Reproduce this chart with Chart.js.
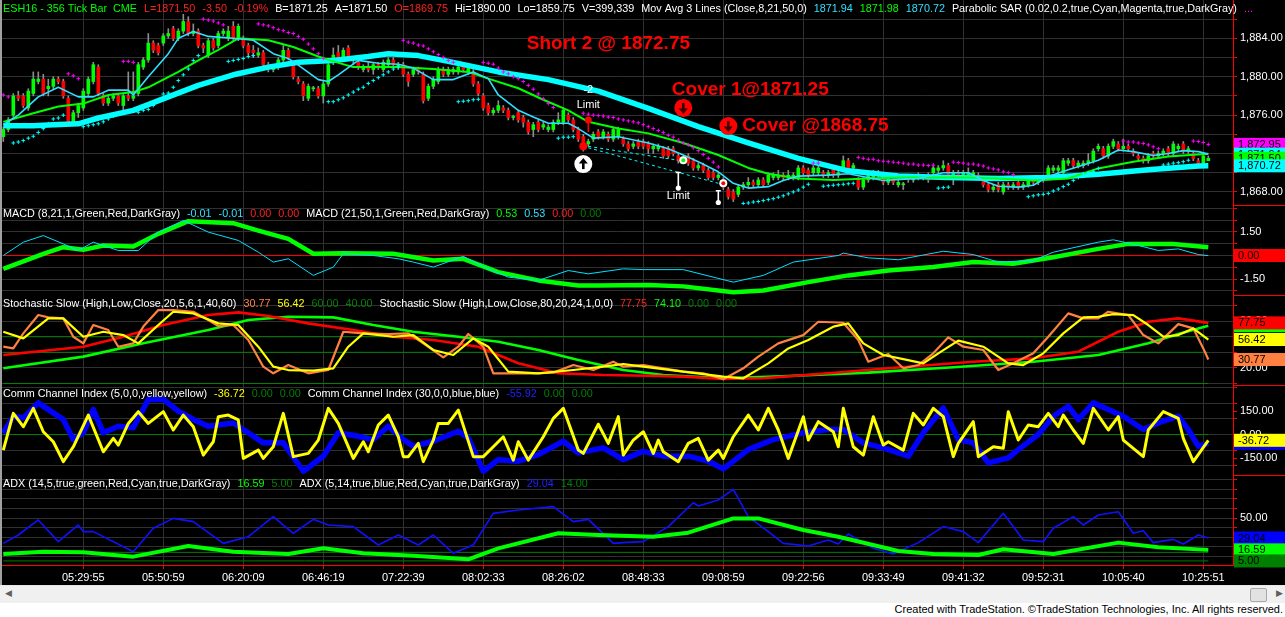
<!DOCTYPE html>
<html>
<head>
<meta charset="utf-8">
<script src="https://cdn.jsdelivr.net/npm/chart.js@4.4.1/dist/chart.umd.min.js"></script>
<style>
html,body{margin:0;padding:0;background:#fff;overflow:hidden;width:1285px;height:617px}
#wrap{position:absolute;left:0;top:0;width:1283px;height:585px;border-left:2px solid #a0a0a0;background:#000}
#sb{position:absolute;left:0;top:585px;width:1285px;height:17px;background:#f0f0f0;border-top:1px solid #e6e6e6}
#la{position:absolute;left:5px;top:2px;font:9px "Liberation Sans",Arial,sans-serif;color:#606060}
#thumb{position:absolute;left:1250px;top:2px;width:15px;height:12px;background:#e2e2e2;border:1px solid #a8a8a8;border-radius:2px}
#ra{position:absolute;left:1276px;top:2px;font:9px "Liberation Sans",Arial,sans-serif;color:#606060}
#foot{position:absolute;right:2px;top:603px;font:11px "Liberation Sans",Arial,sans-serif;color:#000;white-space:nowrap}
</style>
</head>
<body>
<div id="wrap"><canvas id="c" width="1283" height="585"></canvas></div>
<div id="sb"><span id="la">&#9664;</span><div id="thumb"></div><span id="ra">&#9654;</span></div>
<div id="foot">Created with TradeStation. &copy;TradeStation Technologies, Inc. All rights reserved.</div>
<script>
// time axis labels, one every 16 bars
let timeBars = [16, 32, 48, 64, 80, 96, 112, 128, 144, 160, 176, 192, 208, 224, 240]
let timeLabels = ['05:29:55', '05:50:59', '06:20:09', '06:46:19', '07:22:39', '08:02:33', '08:26:02', '08:48:33',
  '09:08:59', '09:22:56', '09:33:49', '09:41:32', '09:52:31', '10:05:40', '10:25:51']

// 356 tick bars
let opens = [
  1873.75,1874.5,1876.0,1878.0,1878.0,1876.75,1878.25,1879.5,1879.75,1878.75,
  1879.0,1879.75,1879.5,1877.75,1875.25,1876.25,1876.75,1878.25,1879.5,1881.0,
  1878.0,1877.25,1877.75,1878.0,1877.0,1878.0,1877.75,1878.25,1881.0,1881.75,
  1883.5,1883.25,1883.5,1884.25,1885.0,1884.0,1884.75,1885.75,1884.5,1884.75,
  1883.25,1882.25,1883.75,1883.25,1884.5,1884.0,1885.25,1884.0,1884.0,1883.25,
  1882.75,1882.25,1882.5,1881.25,1880.75,1881.0,1881.75,1882.75,1881.25,1879.75,
  1879.25,1877.75,1878.75,1878.75,1878.0,1879.25,1881.5,1882.5,1882.0,1883.0,
  1881.75,1881.5,1880.75,1881.0,1880.75,1881.25,1880.75,1881.25,1881.75,1881.0,
  1881.25,1880.25,1880.25,1880.75,1880.25,1877.75,1879.0,1879.5,1880.75,1880.25,
  1880.5,1880.5,1881.0,1880.5,1880.5,1879.25,1878.0,1877.0,1876.25,1876.5,
  1876.75,1876.5,1875.75,1876.25,1875.75,1875.25,1874.5,1875.25,1874.75,1874.5,
  1874.5,1875.25,1875.25,1876.0,1875.5,1874.5,1873.75,1873.0,1873.5,1874.25,
  1873.75,1874.0,1873.5,1873.75,1873.5,1873.0,1872.75,1873.25,1873.25,1873.0,
  1872.5,1872.5,1872.5,1872.5,1872.5,1871.75,1871.25,1871.75,1871.25,1870.5,
  1870.75,1870.25,1870.0,1869.5,1869.25,1868.25,1868.0,1867.75,1868.5,1868.75,
  1869.0,1868.75,1869.25,1869.0,1869.5,1869.5,1869.75,1869.5,1869.5,1869.5,
  1870.5,1870.25,1870.0,1870.0,1870.0,1869.75,1870.5,1869.75,1870.5,1871.25,
  1870.5,1869.25,1868.5,1869.25,1869.5,1870.0,1869.5,1869.0,1869.5,1868.75,
  1868.75,1869.5,1869.25,1869.75,1869.5,1869.75,1870.0,1870.25,1870.5,1870.75,
  1869.75,1870.0,1869.75,1869.75,1869.75,1869.75,1869.25,1868.75,1868.25,1868.75,
  1868.0,1868.75,1868.5,1869.0,1868.5,1868.75,1869.25,1869.0,1869.25,1869.75,
  1870.25,1870.25,1870.0,1871.0,1871.25,1870.75,1870.75,1871.0,1871.25,1872.5,
  1872.5,1871.75,1872.75,1873.0,1872.5,1872.75,1872.25,1871.75,1871.5,1871.25,
  1872.0,1871.75,1872.0,1872.5,1872.0,1872.5,1873.0,1872.25,1872.0,1871.25,
  1871.0,1871.25]
let highs = [
  1874.75,1875.75,1878.25,1878.5,1878.25,1878.75,1880.5,1880.5,1880.25,1879.75,
  1880.0,1880.0,1879.75,1878.0,1876.5,1877.25,1878.75,1880.0,1881.5,1881.25,
  1878.25,1878.0,1878.25,1878.25,1878.25,1880.5,1880.5,1881.5,1882.0,1884.5,
  1883.75,1883.5,1884.5,1885.0,1885.25,1885.0,1886.5,1886.25,1885.5,1885.0,
  1883.5,1884.0,1884.0,1884.75,1885.0,1885.25,1885.75,1885.5,1884.25,1883.5,
  1883.25,1883.0,1882.75,1881.5,1881.25,1882.0,1883.25,1883.0,1881.5,1880.0,
  1879.5,1879.25,1879.0,1879.0,1879.5,1881.5,1883.0,1883.25,1883.0,1883.25,
  1882.0,1881.75,1881.25,1881.5,1881.5,1881.5,1881.75,1882.0,1882.0,1881.5,
  1881.5,1880.5,1881.0,1881.0,1880.5,1879.25,1880.0,1881.0,1881.0,1881.0,
  1881.0,1881.25,1881.25,1881.25,1880.75,1879.5,1878.25,1877.25,1876.75,1877.5,
  1877.0,1876.75,1876.0,1876.5,1876.0,1875.5,1875.25,1875.5,1875.25,1875.0,
  1875.5,1876.25,1876.75,1876.25,1875.75,1874.75,1874.0,1873.5,1874.25,1874.5,
  1874.5,1874.25,1874.75,1874.75,1873.75,1873.25,1873.25,1873.5,1873.5,1873.25,
  1873.0,1873.0,1872.75,1872.75,1872.75,1872.0,1871.75,1872.0,1871.5,1871.0,
  1871.0,1870.5,1870.25,1870.0,1869.5,1868.5,1868.25,1868.75,1869.0,1869.5,
  1869.25,1869.5,1869.5,1870.0,1870.0,1870.25,1870.0,1870.25,1870.0,1870.75,
  1870.75,1870.5,1870.75,1870.75,1870.25,1870.25,1870.75,1870.5,1871.75,1871.5,
  1871.0,1869.5,1869.5,1870.0,1870.25,1870.25,1869.75,1869.75,1869.75,1869.25,
  1869.0,1869.75,1869.75,1870.0,1869.75,1870.0,1870.75,1870.75,1871.25,1871.0,
  1870.25,1870.25,1870.25,1870.5,1870.25,1870.0,1869.5,1869.0,1868.75,1869.0,
  1869.0,1869.0,1869.0,1869.25,1869.0,1869.5,1869.5,1869.5,1869.75,1870.75,
  1870.75,1870.75,1871.5,1871.5,1871.5,1871.25,1871.25,1872.0,1872.5,1873.0,
  1872.75,1873.0,1873.5,1873.25,1873.5,1873.0,1872.5,1872.0,1871.75,1872.0,
  1872.25,1872.25,1872.5,1872.75,1873.25,1873.0,1873.25,1872.75,1872.25,1871.5,
  1872.0,1871.75]
let lows = [
  1873.25,1874.25,1875.75,1877.5,1876.75,1876.5,1878.0,1879.25,1878.0,1878.0,
  1878.75,1879.25,1877.75,1875.0,1875.0,1875.75,1876.5,1878.0,1879.25,1878.0,
  1877.0,1877.0,1877.5,1877.0,1876.5,1877.5,1877.5,1878.0,1880.75,1881.5,
  1882.5,1882.25,1883.25,1884.0,1883.75,1883.75,1884.5,1884.25,1884.25,1883.0,
  1882.5,1882.0,1882.75,1883.0,1884.25,1883.75,1883.75,1883.75,1883.0,1882.25,
  1882.0,1882.0,1881.0,1880.5,1880.5,1880.75,1881.5,1881.75,1879.75,1879.25,
  1877.5,1877.5,1878.5,1877.75,1877.25,1879.0,1881.25,1881.5,1881.75,1881.75,
  1881.25,1880.75,1880.5,1880.5,1880.25,1880.75,1880.5,1881.0,1881.0,1880.75,
  1880.0,1879.0,1880.0,1880.25,1877.25,1877.5,1878.75,1879.25,1880.0,1880.0,
  1880.25,1880.25,1880.5,1880.25,1879.0,1878.0,1876.5,1876.0,1876.0,1876.25,
  1876.25,1875.5,1875.5,1875.25,1874.75,1874.0,1873.75,1874.25,1874.5,1874.25,
  1874.25,1875.0,1875.0,1875.25,1874.25,1873.25,1872.25,1872.75,1873.25,1873.5,
  1873.5,1873.25,1873.25,1873.5,1872.75,1872.25,1872.5,1872.5,1872.5,1872.0,
  1872.0,1872.25,1871.5,1871.5,1871.75,1871.0,1871.0,1870.75,1870.25,1870.25,
  1870.0,1869.25,1869.25,1869.25,1868.25,1867.25,1867.0,1867.5,1868.25,1868.5,
  1868.5,1868.5,1868.5,1868.75,1869.25,1869.25,1869.25,1869.25,1869.25,1869.25,
  1869.75,1869.5,1869.75,1869.75,1869.5,1869.5,1869.5,1869.5,1870.25,1870.25,
  1870.0,1868.25,1868.25,1869.0,1869.25,1869.5,1868.75,1868.75,1868.75,1868.5,
  1868.25,1869.0,1869.0,1869.25,1869.25,1869.0,1869.75,1870.0,1870.25,1869.5,
  1868.75,1869.5,1869.5,1869.5,1869.5,1869.25,1868.5,1868.0,1868.0,1868.0,
  1867.75,1868.25,1868.25,1868.25,1868.25,1868.5,1868.75,1868.75,1869.0,1869.5,
  1870.0,1869.75,1869.75,1870.75,1870.5,1870.5,1870.5,1870.75,1871.0,1872.25,
  1871.5,1871.5,1872.5,1872.25,1872.25,1872.25,1871.75,1871.25,1871.0,1871.0,
  1871.5,1871.5,1871.75,1871.75,1871.75,1872.25,1872.0,1872.0,1871.25,1870.75,
  1870.75,1871.25]
let closes = [
  1874.5,1875.5,1878.0,1877.75,1877.0,1878.5,1879.75,1879.75,1878.25,1879.0,
  1879.75,1879.5,1878.0,1875.25,1876.25,1877.0,1878.5,1879.75,1881.25,1878.25,
  1877.25,1877.75,1878.0,1877.25,1878.0,1877.75,1878.0,1881.25,1881.75,1883.5,
  1882.75,1882.5,1884.25,1884.5,1884.0,1884.75,1885.75,1884.5,1884.75,1883.25,
  1883.0,1883.75,1883.0,1884.5,1884.75,1884.75,1884.0,1885.25,1883.25,1882.5,
  1882.5,1882.5,1881.25,1880.75,1881.0,1881.75,1882.75,1882.0,1880.0,1879.5,
  1878.0,1879.0,1878.75,1878.0,1879.25,1881.25,1882.25,1881.75,1882.75,1882.0,
  1881.75,1881.0,1881.0,1880.75,1881.25,1881.0,1881.5,1881.75,1881.25,1881.25,
  1880.25,1879.5,1880.75,1880.5,1877.5,1879.0,1879.75,1880.75,1880.25,1880.75,
  1880.75,1881.0,1880.75,1881.0,1879.25,1878.25,1876.75,1876.25,1876.5,1877.0,
  1876.5,1875.75,1875.75,1875.5,1875.25,1874.25,1875.0,1874.5,1875.0,1874.75,
  1875.25,1875.5,1876.5,1875.5,1874.5,1873.5,1872.5,1873.25,1874.0,1873.75,
  1874.25,1873.5,1874.5,1874.5,1873.0,1872.5,1873.0,1872.75,1872.75,1872.5,
  1872.75,1872.75,1871.75,1871.75,1872.0,1871.25,1871.5,1871.0,1870.5,1870.75,
  1870.25,1869.5,1869.5,1869.75,1868.5,1867.5,1867.25,1868.5,1868.75,1869.0,
  1868.75,1869.25,1868.75,1869.75,1869.75,1869.75,1869.5,1869.75,1869.75,1870.5,
  1870.0,1869.75,1870.5,1870.5,1869.75,1870.0,1869.75,1870.0,1871.25,1870.5,
  1870.75,1868.5,1869.25,1869.75,1870.0,1869.75,1869.0,1869.5,1869.0,1869.0,
  1868.75,1869.25,1869.5,1869.5,1869.5,1869.25,1870.5,1870.5,1870.75,1869.75,
  1870.0,1869.75,1870.0,1870.0,1870.0,1869.5,1868.75,1868.25,1868.5,1868.25,
  1868.75,1868.5,1868.75,1868.5,1868.75,1869.25,1869.0,1869.25,1869.5,1870.5,
  1870.5,1870.5,1871.25,1871.25,1870.75,1871.0,1871.0,1871.25,1872.25,1872.75,
  1871.75,1872.75,1873.25,1872.5,1872.75,1872.5,1872.0,1871.5,1871.25,1871.75,
  1871.75,1872.0,1872.25,1872.0,1873.0,1872.75,1872.25,1872.5,1871.5,1871.0,
  1871.75,1871.5]

// moving averages [bar, value]
let ma8 = [[0,1875.0],[3,1876.0],[7,1877.9],[11,1878.9],[15,1877.9],[18,1877.9],[21,1878.6],[25,1878.6],[26,1878.1],
  [29,1880.0],[33,1882.4],[35,1884.0],[38,1884.7],[41,1884.2],[46,1884.0],[50,1883.8],[54,1882.4],[57,1881.9],
  [59,1881.2],[63,1879.7],[65,1879.5],[67,1880.2],[71,1881.7],[75,1881.4],[79,1881.3],[82,1880.9],[86,1879.7],
  [90,1879.7],[94,1880.5],[97,1879.8],[99,1878.1],[103,1876.5],[106,1875.8],[109,1875.15],[113,1875.15],
  [115,1874.6],[118,1873.6],[123,1873.75],[129,1873.1],[133,1872.5],[136,1871.85],[139,1871.15],[143,1870.1],
  [146,1868.9],[149,1868.4],[153,1868.55],[156,1869.2],[159,1869.65],[165,1869.75],[169,1869.9],[176,1869.2],
  [183,1869.4],[188,1870.0],[193,1870.0],[196,1869.2],[199,1868.6],[203,1868.5],[206,1868.7],[209,1869.6],
  [213,1870.3],[216,1870.8],[219,1871.3],[223,1872.36],[226,1872.2],[230,1871.8],[233,1872.0],[236,1872.3],
  [239,1872.2],[241,1871.94]]
let ma21 = [[0,1875.3],[6,1876.2],[11,1876.9],[16,1877.2],[21,1878.1],[26,1878.4],[29,1878.9],[35,1880.5],
  [39,1881.7],[43,1882.8],[47,1884.0],[53,1883.8],[58,1883.1],[63,1882.1],[66,1881.6],[70,1881.0],[76,1881.0],
  [79,1881.0],[86,1880.8],[93,1880.5],[97,1879.8],[103,1878.8],[108,1877.6],[113,1876.5],[117,1875.3],
  [123,1874.6],[129,1874.1],[136,1873.1],[143,1871.85],[149,1870.5],[153,1869.9],[159,1869.4],[166,1869.24],
  [173,1869.4],[179,1869.5],[186,1869.5],[193,1869.5],[199,1869.4],[206,1869.2],[213,1869.4],[219,1870.45],
  [226,1871.15],[233,1871.7],[241,1871.98]]
let ma50 = [[0,1874.9],[6,1874.9],[10,1875.0],[15,1875.1],[19,1875.7],[26,1876.5],[33,1877.9],[39,1879.1],
  [46,1880.2],[53,1881.0],[59,1881.5],[66,1881.7],[73,1882.1],[77,1882.4],[83,1882.2],[89,1881.6],[99,1880.5],
  [109,1879.7],[119,1878.5],[129,1876.7],[139,1874.8],[149,1873.1],[159,1871.5],[169,1870.2],[179,1869.65],
  [189,1869.5],[199,1869.4],[209,1869.5],[219,1869.85],[229,1870.3],[239,1870.7],[241,1870.72]]

// parabolic SAR dots [bar, value]
let sarBelow = [[2,1873.1],[3,1873.2],[4,1873.35],[5,1873.6],[6,1873.8],[7,1874.2],[8,1874.6],[9,1875.1],[10,1875.6],
  [11,1875.7],[12,1876.0],[16,1874.8],[17,1874.9],[18,1875.0],[19,1875.1],[20,1875.3],[21,1875.6],[22,1875.9],
  [23,1876.2],[27,1876.3],[28,1876.5],[29,1876.6],[30,1877.0],[31,1877.6],[32,1878.2],[33,1878.3],[34,1878.9],
  [35,1879.6],[36,1880.2],[37,1880.8],[38,1881.7],[39,1882.2],[45,1881.6],[46,1881.7],[47,1881.8],[48,1881.9],
  [49,1882.1],[50,1882.2],[65,1877.4],[66,1877.4],[67,1877.6],[68,1877.8],[69,1878.1],[70,1878.4],[71,1878.7],
  [72,1878.9],[73,1879.3],[74,1879.6],[75,1879.9],[76,1880.2],[77,1880.5],[78,1880.8],[79,1881.0],[91,1877.4],
  [92,1877.45],[93,1877.5],[94,1877.6],[95,1877.65],[111,1873.6],[112,1873.7],[113,1873.7],[114,1873.75],
  [148,1866.8],[149,1866.85],[150,1866.95],[151,1867.0],[152,1867.1],[153,1867.2],[154,1867.3],[155,1867.45],
  [156,1867.6],[157,1867.8],[158,1868.0],[159,1868.2],[160,1868.5],[161,1868.8],[164,1868.6],[165,1868.65],
  [166,1868.7],[167,1868.75],[168,1868.8],[169,1868.85],[170,1868.9],[187,1868.4],[188,1868.45],[189,1868.5],
  [205,1867.5],[206,1867.6],[207,1867.7],[208,1867.75],[209,1867.85],[210,1868.1],[211,1868.3],[212,1868.55],
  [213,1868.8],[214,1869.2],[215,1869.5],[216,1869.9],[217,1870.0],[218,1870.1],[219,1870.45],[232,1870.8],
  [233,1870.9],[234,1871.0],[235,1871.05],[236,1871.15],[237,1871.3]]
let sarAbove = [[0,1878.1],[1,1877.9],[13,1880.3],[14,1880.1],[15,1879.8],[24,1881.6],[25,1881.6],[26,1881.5],
  [40,1886.0],[41,1885.9],[42,1885.8],[43,1885.6],[44,1885.4],[51,1885.5],[52,1885.4],[53,1885.3],[54,1885.1],
  [55,1884.9],[56,1884.8],[57,1884.6],[58,1884.5],[59,1884.2],[60,1883.9],[61,1883.4],[62,1882.9],[63,1882.4],
  [64,1881.9],[80,1883.8],[81,1883.6],[82,1883.5],[83,1883.3],[84,1883.2],[85,1882.9],[86,1882.6],[87,1882.3],
  [88,1882.0],[89,1881.7],[90,1881.5],[96,1881.5],[97,1881.4],[98,1881.3],[99,1880.9],[100,1880.5],[101,1880.3],
  [102,1880.0],[103,1879.8],[104,1879.5],[105,1879.1],[106,1878.7],[107,1878.2],[108,1877.7],[109,1877.2],
  [110,1876.8],[116,1876.2],[117,1876.1],[118,1876.0],[119,1875.95],[120,1875.9],[121,1875.8],[122,1875.75],
  [123,1875.6],[124,1875.5],[125,1875.4],[126,1875.3],[127,1875.2],[128,1875.0],[129,1874.8],[130,1874.6],
  [131,1874.4],[132,1874.2],[133,1873.9],[134,1873.7],[135,1873.4],[136,1873.1],[137,1872.9],[138,1872.6],
  [139,1872.3],[140,1871.9],[141,1871.5],[142,1871.1],[143,1870.6],[162,1871.0],[163,1871.0],[171,1871.6],
  [172,1871.5],[173,1871.4],[174,1871.4],[175,1871.25],[176,1871.2],[177,1871.15],[178,1871.1],[179,1871.05],
  [180,1871.0],[181,1870.9],[182,1870.9],[183,1870.8],[184,1870.8],[185,1870.75],[186,1870.8],[190,1871.1],
  [191,1871.05],[192,1871.0],[193,1870.9],[194,1870.9],[195,1870.8],[196,1870.7],[197,1870.5],[198,1870.4],
  [199,1870.3],[200,1870.1],[201,1870.0],[202,1869.8],[224,1873.3],[225,1873.2],[226,1873.2],[227,1873.1],
  [228,1873.05],[229,1872.9],[230,1872.7],[231,1872.5],[238,1873.3],[239,1873.25],[240,1873.15],[241,1872.95]]

// short trade: entry 1872.75, exits 1871.25 and 1868.75
let tradeExit1 = [[117,1872.75],[135,1871.3]]
let tradeExit2 = [[117,1872.6],[143,1868.9]]

// MACD
let macdFast = [[0,0],[4,0.85],[8,1.27],[12,0.74],[15,0.32],[18,0.85],[23,0.32],[27,0.32],[31,1.49],[36,2.23],
  [41,1.49],[47,0.96],[51,0.21],[54,-0.42],[57,-0.21],[62,-1.27],[66,-0.74],[68,0.11],[74,0],[79,-0.21],[82,-0.42],
  [86,-0.74],[92,-0.06],[97,-0.85],[101,-1.38],[107,-1.59],[113,-0.96],[117,-1.17],[124,-0.85],[128,-0.9],
  [136,-0.9],[146,-1.7],[152,-1.27],[158,-0.42],[167,0],[168,0.15],[173,-0.15],[179,-0.27],[188,0.27],[194,0.06],
  [199,-0.42],[206,-0.32],[210,0.21],[219,0.85],[222,1.0],[227,0.64],[231,0.32],[235,0.42],[239,0.06],[241,-0.01]]
let macdSlow = [[0,-0.85],[8,0.1],[12,0.53],[16,0.36],[20,0.64],[26,0.57],[31,1.38],[37,2.19],[46,2.06],[51,1.59],
  [57,1.06],[62,0.11],[68,0.15],[78,0.11],[86,-0.32],[92,-0.21],[99,-1.06],[107,-1.59],[115,-1.91],[119,-1.91],
  [129,-1.88],[136,-1.97],[146,-2.35],[152,-2.23],[161,-1.7],[169,-1.27],[177,-0.96],[186,-0.74],[194,-0.42],
  [202,-0.53],[210,-0.11],[219,0.42],[225,0.74],[234,0.74],[241,0.53]]
let macdLevels = [0]

// Stochastic slow
let stochFastK = [[0,47.2],[2,45],[4,64.3],[7,87.8],[9,84.8],[12,83.5],[14,60],[16,51.5],[18,75],[21,68.6],[23,47.2],
  [26,51.5],[28,73],[31,94.2],[34,94.2],[38,92],[41,81.4],[43,73.7],[46,75],[49,55.8],[52,21.6],[54,13.1],[57,23.7],
  [61,13.1],[65,17.3],[68,66.4],[72,64.3],[77,63.5],[81,64.3],[84,51.5],[88,33.6],[91,47.2],[93,63.5],[96,47.2],
  [98,13.1],[101,13.1],[106,13.1],[110,14],[114,23.7],[118,17.3],[122,28],[124,21.6],[128,23.7],[132,19.5],
  [136,15.2],[140,13.1],[144,5.4],[148,19.5],[151,34.5],[155,51.5],[160,62.1],[163,79.2],[168,77.9],[171,55.8],
  [173,28],[177,37.9],[180,19.5],[183,23.7],[186,38.7],[189,59.2],[192,47.2],[196,43],[199,17.3],[202,25.9],
  [206,38.7],[209,60],[213,89.9],[216,83.5],[219,83.5],[221,92],[225,87.8],[228,62.1],[231,51.5],[235,76.2],
  [238,70.7],[240,45],[241,30.77]]
let stochFastD = [[0,66.4],[4,57.9],[9,83.5],[12,83.5],[16,60],[20,66.4],[24,62.1],[27,51.5],[31,75],[34,92],
  [38,89.9],[43,77.1],[47,75],[51,47.2],[54,21.6],[57,17.3],[62,16.5],[66,19.5],[69,47.2],[72,64.3],[78,60],
  [82,62.1],[86,43],[90,36.6],[94,57.9],[97,47.2],[101,15.2],[107,13.1],[114,17.3],[120,21.6],[124,25],[128,21.6],
  [136,15.2],[144,8.8],[148,6.7],[153,25.9],[157,45],[161,55.8],[166,72.9],[169,77.1],[172,51.5],[176,36.6],
  [180,31.2],[184,25.9],[187,38.7],[191,55],[196,47.2],[201,25.9],[204,23.7],[208,38.7],[212,64.3],[216,84.8],
  [219,85.6],[222,89],[226,87.8],[229,75],[232,60],[235,62.1],[238,70.7],[241,56.42]]
let stochSlowK = [[0,36.5],[16,47.2],[24,60],[32,75],[41,87.8],[47,91.2],[53,86.5],[61,77.1],[70,68.6],[78,60],
  [86,55.8],[95,47.2],[103,25.9],[111,13.1],[120,10.9],[129,10],[136,8.8],[144,5.8],[152,6.7],[165,13.1],
  [177,19.5],[194,28],[206,32.3],[215,40.8],[223,66.4],[229,79.2],[235,83.5],[241,77.75]]
let stochSlowD = [[0,19.5],[16,34.5],[28,51.5],[41,68.6],[49,81.4],[57,85.6],[66,84.8],[74,75],[82,66.4],[91,60],
  [99,53.6],[107,43],[115,30.2],[124,17.3],[132,10.9],[144,6.7],[157,9.7],[173,14],[190,20.8],[206,28],[219,36.6],
  [229,51.5],[235,63.5],[241,74.1]]
let stochLevels = [60, 40, 0]

// Commodity Channel Index
let cciFast = [[0,-99],[2,135],[4,50],[6,167],[8,18],[10,-46],[12,-173],[14,-78],[17,124],[20,-110],[22,-24],
  [23,-67],[25,71],[27,146],[29,71],[32,146],[34,29],[36,124],[38,50],[40,-131],[42,-46],[43,114],[45,124],[47,93],
  [48,-152],[51,-99],[52,-152],[54,-78],[56,135],[58,-141],[61,-120],[63,-35],[65,167],[67,71],[70,-152],[72,-46],
  [73,-110],[75,61],[77,124],[79,-14],[80,-141],[81,-141],[83,-56],[84,-173],[86,-35],[87,71],[89,71],[91,156],
  [94,-141],[96,-141],[98,-78],[100,-14],[102,-163],[103,-46],[105,-163],[108,-14],[110,103],[112,167],[115,-99],
  [116,-120],[119,66],[121,-56],[123,114],[124,-131],[126,-35],[128,18],[130,-120],[131,-35],[132,-110],[135,-173],
  [137,-56],[139,-24],[141,-163],[143,-99],[144,-152],[146,-14],[149,124],[151,29],[153,167],[155,29],[157,-152],
  [160,114],[161,-35],[163,82],[166,18],[167,-78],[168,167],[170,-78],[172,-131],[174,114],[176,-67],[177,-46],
  [180,-99],[182,135],[184,61],[186,167],[188,114],[190,-141],[191,-56],[194,82],[195,-141],[198,-78],[200,-88],
  [201,146],[203,-35],[205,61],[207,50],[209,135],[211,50],[212,124],[214,29],[216,-56],[218,167],[221,29],
  [223,114],[224,-35],[228,-141],[229,29],[232,146],[235,103],[236,-24],[238,-173],[241,-36.72]]
let cciSlow = [[0,10],[2,117],[4,106],[7,202],[10,138],[12,96],[14,-32],[16,11],[18,160],[20,11],[23,53],[26,43],
  [29,224],[32,224],[35,149],[38,96],[41,53],[46,74],[49,11],[52,-53],[56,-53],[60,-234],[64,-138],[67,11],[71,-11],
  [74,-32],[77,53],[80,-32],[82,-75],[86,-43],[91,21],[93,-21],[96,-234],[99,-160],[103,-170],[107,-128],[112,-43],
  [115,-117],[120,-85],[124,-160],[128,-107],[132,-138],[137,-138],[141,-170],[144,-219],[149,-96],[154,-32],
  [160,11],[165,32],[168,32],[172,-53],[176,-85],[181,-138],[184,11],[188,170],[191,-32],[194,-53],[197,-181],
  [201,-149],[203,-96],[207,0],[210,117],[213,181],[215,96],[218,202],[221,160],[224,117],[228,32],[231,74],
  [235,117],[237,32],[239,-75],[241,-55.92]]
let cciLevels = [0]

// ADX
let adxSlow = [[0,12.3],[8,14.7],[16,14],[26,9.5],[37,20.6],[46,14.7],[57,12.3],[64,18.2],[72,13],[82,10.5],[93,6.7],
  [99,18.2],[111,34],[119,32.2],[130,30.4],[137,34.6],[146,49.6],[151,49.6],[160,37.4],[167,30.4],[179,15.4],
  [186,12.3],[195,11.2],[200,17.2],[210,12.3],[223,24.2],[231,19.3],[241,16.59]]
let adxFast = [[0,23.4],[3,32.2],[7,48],[11,25.2],[15,42.7],[16,35.7],[18,35.7],[26,14.7],[30,39.2],[34,49.6],
  [38,46.2],[44,23.4],[49,30.4],[54,51.4],[58,34],[62,48.6],[65,42.7],[70,41],[75,21.7],[79,32.2],[83,21.7],[86,32.2],
  [90,13],[94,21.7],[98,54.9],[103,58.4],[110,61.9],[114,46.2],[117,48.6],[122,23.4],[124,24.2],[128,25.2],[133,41],
  [138,66],[139,62.6],[143,68.9],[146,80],[149,51.4],[153,35.7],[156,23.4],[161,20.6],[165,27],[167,22.8],[169,33.2],
  [174,18.2],[178,12.3],[183,24.2],[188,41],[192,35.7],[195,24.2],[200,54.9],[204,27],[208,25.2],[210,39.2],
  [214,51.4],[216,42.7],[219,53.2],[223,56.6],[226,34],[228,36.7],[230,24.2],[234,27.6],[236,22.8],[239,32.2],
  [241,29.04]]
let adxLevels = [14, 5]

// ---------------------------------------------------------------
const FONT = '"Liberation Sans", Arial, sans-serif'
const GRID = '#303030'
const DKGREEN = '#008000'
const lastBar = opens.length - 1
const last = arr => arr[arr.length - 1][1]

Chart.defaults.font.family = FONT
Chart.defaults.font.size = 11
Chart.defaults.color = '#ffffff'

function pts(pairs) {
  return pairs.map(p => ({x: p[0], y: p[1]}))
}

function line(pairs, color, width, axis, order) {
  return {type: 'line', data: pts(pairs), borderColor: color, borderWidth: width, pointRadius: 0,
    tension: 0, fill: false, yAxisID: axis, order: order, borderJoinStyle: 'round'}
}

function level(value, color, axis) {
  return line([[0, value], [lastBar, value]], color, 1, axis, 30)
}

function dots(pairs, color) {
  return {type: 'line', data: pts(pairs), showLine: false, pointStyle: 'cross', pointRadius: 1.9,
    pointBorderWidth: 1, pointBorderColor: color, pointBackgroundColor: color, yAxisID: 'yPrice', order: 1}
}

function yAxis(min, max, weight, tickVals, label, gridColor) {
  return {
    type: 'linear', position: 'right', stack: 'panes', stackWeight: weight, min: min, max: max,
    afterBuildTicks: a => { a.ticks = tickVals.map(v => ({value: v})) },
    afterFit: a => { a.width = 52; a.paddingTop = 0; a.paddingBottom = 0 },
    ticks: {color: '#ffffff', padding: 3, autoSkip: false, callback: label, font: {size: 11}},
    grid: {color: gridColor || GRID, tickColor: '#ff0000', tickLength: 4, drawTicks: true},
    border: {color: '#ff0000', width: 1}
  }
}

const fmt = (v, comma) => v.toLocaleString('en-US', {minimumFractionDigits: 2, maximumFractionDigits: 2, useGrouping: comma})

const candleColors = opens.map((o, i) => closes[i] >= o ? '#00ff00' : '#ff0000')

let datasets = [
  dots(sarAbove, '#ff00ff'),
  dots(sarBelow, '#00ffff'),
  line(ma8, '#30e0ff', 1.6, 'yPrice', 2),
  line(ma21, '#00ff00', 2, 'yPrice', 3),
  line(ma50, '#00ffff', 5.5, 'yPrice', 4),
  Object.assign(line(tradeExit1, '#00ffff', 1, 'yPrice', 5), {borderDash: [3, 3]}),
  Object.assign(line(tradeExit2, '#00ffff', 1, 'yPrice', 5), {borderDash: [3, 3]}),
  {type: 'bar', data: opens.map((o, i) => ({x: i, y: [o, closes[i]]})), backgroundColor: candleColors,
    barThickness: 3, minBarLength: 1, grouped: false, yAxisID: 'yPrice', order: 10},
  {type: 'bar', data: opens.map((o, i) => ({x: i, y: [lows[i], highs[i]]})), backgroundColor: '#8c8c8c',
    barThickness: 1, grouped: false, yAxisID: 'yPrice', order: 11},

  line(macdFast, '#00e0ff', 1, 'yMacd', 6),
  line(macdSlow, '#00ff00', 4.5, 'yMacd', 7),
  ...macdLevels.map(v => level(v, '#ff0000', 'yMacd')),

  line(stochFastD, '#ffff00', 2.2, 'yStoch', 6),
  line(stochFastK, '#ff8040', 2.2, 'yStoch', 7),
  line(stochSlowK, '#ff0000', 2.6, 'yStoch', 8),
  line(stochSlowD, '#00ff00', 2.6, 'yStoch', 9),
  ...stochLevels.map(v => level(v, DKGREEN, 'yStoch')),

  line(cciFast, '#ffff00', 3, 'yCci', 6),
  line(cciSlow, '#0000ff', 5.5, 'yCci', 7),
  ...cciLevels.map(v => level(v, DKGREEN, 'yCci')),

  line(adxSlow, '#00ff00', 4, 'yAdx', 6),
  line(adxFast, '#1010ff', 1.6, 'yAdx', 7),
  ...adxLevels.map(v => level(v, DKGREEN, 'yAdx'))
]

// panel headers
const titles = [
  ['yPrice', [['ESH16 - 356 Tick Bar  CME', '#00ff00'], ['L=1871.50', '#ff2020'], ['-3.50', '#ff2020'], ['-0.19%', '#ff2020'],
    ['B=1871.25', '#fff'], ['A=1871.50', '#fff'], ['O=1869.75', '#ff2020'], ['Hi=1890.00', '#fff'], ['Lo=1859.75', '#fff'],
    ['V=399,339', '#fff'], ['Mov Avg 3 Lines (Close,8,21,50,0)', '#fff'], ['1871.94', '#30e0ff'], ['1871.98', '#00ff00'],
    ['1870.72', '#30e0ff'], ['Parabolic SAR (0.02,0.2,true,Cyan,Magenta,true,DarkGray)', '#fff'], ['...', '#ff00ff']]],
  ['yMacd', [['MACD (8,21,1,Green,Red,DarkGray)', '#fff'], ['-0.01', '#30e0ff'], ['-0.01', '#30e0ff'], ['0.00', '#ff2020'],
    ['0.00', '#ff2020'], ['MACD (21,50,1,Green,Red,DarkGray)', '#fff'], ['0.53', '#00ff00'], ['0.53', '#30e0ff'],
    ['0.00', '#ff2020'], ['0.00', DKGREEN]]],
  ['yStoch', [['Stochastic Slow (High,Low,Close,20,5,6,1,40,60)', '#fff'], ['30.77', '#ff8040'], ['56.42', '#ffff00'],
    ['60.00', DKGREEN], ['40.00', DKGREEN], ['Stochastic Slow (High,Low,Close,80,20,24,1,0,0)', '#fff'], ['77.75', '#ff2020'],
    ['74.10', '#00ff00'], ['0.00', DKGREEN], ['0.00', DKGREEN]]],
  ['yCci', [['Comm Channel Index (5,0,0,yellow,yellow)', '#fff'], ['-36.72', '#ffff00'], ['0.00', DKGREEN], ['0.00', DKGREEN],
    ['Comm Channel Index (30,0,0,blue,blue)', '#fff'], ['-55.92', '#2020ff'], ['0.00', DKGREEN], ['0.00', DKGREEN]]],
  ['yAdx', [['ADX (14,5,true,green,Red,Cyan,true,DarkGray)', '#fff'], ['16.59', '#00ff00'], ['5.00', DKGREEN],
    ['ADX (5,14,true,blue,Red,Cyan,true,DarkGray)', '#fff'], ['29.04', '#2020ff'], ['14.00', DKGREEN]]]
]

// last value markers on the right scale, drawn in order
const boxes = [
  ['yPrice', last(sarAbove), '#ff00ff', true], ['yPrice', last(ma8), '#00ffff', true],
  ['yPrice', closes[lastBar], '#00ff00', true], ['yPrice', last(ma50), '#00ffff', true],
  ['yMacd', macdLevels[0], '#ff0000', false],
  ['yStoch', last(stochSlowD), '#00ff00', false], ['yStoch', last(stochSlowK), '#ff0000', false],
  ['yStoch', last(stochFastD), '#ffff00', false], ['yStoch', last(stochFastK), '#ff8040', false],
  ['yCci', last(cciSlow), '#0000ff', false], ['yCci', last(cciFast), '#ffff00', false],
  ['yAdx', last(adxFast), '#0000ff', false], ['yAdx', last(adxSlow), '#00ff00', false],
  ['yAdx', adxLevels[1], DKGREEN, false]
]

// trade annotations in bar / price units
const notes = {
  big: [['Short 2 @ 1872.75', 104.7, 1883.4], ['Cover 1@1871.25', 133.7, 1878.6], ['Cover @1868.75', 147.8, 1874.86]],
  small: [['-2', 117, 1878.6], ['Limit', 117, 1877.05], ['Limit', 135, 1867.55]],
  down: [[136, 1876.75], [145, 1874.86]],
  up: [[116, 1870.9]],
  pins: [[135, 1870.1, 1868.4], [143, 1868.2, 1866.9]],
  redPin: [117, 1875.5, 1874.25],
  entry: [116, 1872.75],
  rings: [[136, 1871.3, '#00ff00'], [144, 1868.9, '#ff0000']]
}

function arrow(c, x, y, dir, color) {
  c.fillStyle = color
  c.fillRect(x - 1.3, y - dir * 5, 2.6, dir * 6)
  c.beginPath()
  c.moveTo(x - 4.5, y + dir * 0.5)
  c.lineTo(x + 4.5, y + dir * 0.5)
  c.lineTo(x, y + dir * 6)
  c.closePath()
  c.fill()
}

const overlay = {
  id: 'overlay',
  afterDatasetsDraw(chart) {
    const c = chart.ctx
    const X = b => chart.scales.x.getPixelForValue(b)
    const Y = p => chart.scales.yPrice.getPixelForValue(p)
    c.save()
    c.textBaseline = 'middle'
    c.textAlign = 'left'
    c.fillStyle = '#ff0000'
    c.font = 'bold 19px ' + FONT
    notes.big.forEach(t => c.fillText(t[0], X(t[1]), Y(t[2])))
    c.textAlign = 'center'
    c.fillStyle = '#ffffff'
    c.font = '11px ' + FONT
    notes.small.forEach(t => c.fillText(t[0], X(t[1]), Y(t[2])))
    notes.down.forEach(d => {
      c.fillStyle = '#ff0000'
      c.beginPath(); c.arc(X(d[0]), Y(d[1]), 9, 0, Math.PI * 2); c.fill()
      arrow(c, X(d[0]), Y(d[1]), 1, '#3a0000')
    })
    notes.up.forEach(d => {
      c.fillStyle = '#ffffff'
      c.beginPath(); c.arc(X(d[0]), Y(d[1]), 9, 0, Math.PI * 2); c.fill()
      arrow(c, X(d[0]), Y(d[1]), -1, '#000000')
    })
    notes.pins.forEach(p => {
      const x = X(p[0]), y0 = Y(p[1]), y1 = Y(p[2])
      c.fillStyle = '#ffffff'
      c.fillRect(x - 0.8, y0, 1.6, y1 - y0)
      c.fillRect(x - 2.5, y0, 5, 1.5)
      c.beginPath(); c.arc(x, y1, 2.6, 0, Math.PI * 2); c.fill()
    })
    const rp = notes.redPin
    c.fillStyle = '#ff0000'
    c.fillRect(X(rp[0]) - 0.8, Y(rp[1]), 1.6, Y(rp[2]) - Y(rp[1]))
    c.beginPath(); c.arc(X(rp[0]), Y(rp[1]), 3.5, 0, Math.PI * 2); c.fill()
    c.beginPath(); c.arc(X(notes.entry[0]), Y(notes.entry[1]), 4, 0, Math.PI * 2); c.fill()
    notes.rings.forEach(r => {
      c.fillStyle = '#ffffff'
      c.beginPath(); c.arc(X(r[0]), Y(r[1]), 4, 0, Math.PI * 2); c.fill()
      c.fillStyle = r[2]
      c.beginPath(); c.arc(X(r[0]), Y(r[1]), 2, 0, Math.PI * 2); c.fill()
    })
    c.restore()
  },
  afterDraw(chart) {
    const c = chart.ctx
    const area = chart.chartArea
    c.save()
    // headers
    c.font = '10.8px ' + FONT
    c.textBaseline = 'middle'
    c.textAlign = 'left'
    titles.forEach(t => {
      let x = area.left + 1
      const y = chart.scales[t[0]].top + 9.5
      t[1].forEach(seg => {
        c.fillStyle = seg[1]
        c.fillText(seg[0], x, y)
        x += c.measureText(seg[0]).width + 7
      })
    })
    // separators in the scale column
    c.strokeStyle = '#ff0000'
    c.lineWidth = 1
    ;['yPrice', 'yMacd', 'yStoch', 'yCci'].forEach(id => {
      const y = Math.round(chart.scales[id].bottom) + 0.5
      c.beginPath(); c.moveTo(area.right, y); c.lineTo(chart.width, y); c.stroke()
    })
    // value boxes
    c.font = '11px ' + FONT
    boxes.forEach(b => {
      const y = chart.scales[b[0]].getPixelForValue(b[1])
      c.fillStyle = b[2]
      c.fillRect(area.right + 1, y - 6.5, chart.width - area.right - 1, 13)
      c.fillStyle = '#000000'
      c.fillText(fmt(b[1], b[3]), area.right + 5, y + 0.5)
    })
    c.restore()
  }
}

new Chart(document.getElementById('c'), {
  type: 'bar',
  data: {datasets: datasets},
  options: {
    responsive: false,
    animation: false,
    events: [],
    layout: {padding: 0, autoPadding: false},
    plugins: {legend: {display: false}, tooltip: {enabled: false}},
    scales: {
      x: {
        type: 'linear', position: 'bottom', min: -0.26, max: 245.94, offset: false,
        afterBuildTicks: a => { a.ticks = timeBars.map(v => ({value: v})) },
        afterFit: a => { a.height = 20; a.paddingLeft = 0; a.paddingRight = 0 },
        ticks: {color: '#ffffff', padding: 2, maxRotation: 0, autoSkip: false,
          callback: v => timeLabels[timeBars.indexOf(v)]},
        grid: {offset: false, color: GRID, tickColor: '#ff0000', tickLength: 4, drawTicks: true},
        border: {color: '#ff0000', width: 1}
      },
      yPrice: yAxis(1866.64, 1887.99, 205, [1868, 1870, 1872, 1874, 1876, 1878, 1880, 1882, 1884, 1886],
        v => v % 4 === 0 ? fmt(v, true) : ''),
      yMacd: yAxis(-2.52, 3.22, 90, [-2.25, -1.5, -0.75, 0, 0.75, 1.5, 2.25, 3],
        v => Math.abs(v) === 1.5 ? fmt(v, false) : ''),
      yStoch: yAxis(-1.9, 113.5, 90, [0, 20, 40, 60, 80, 100],
        v => v === 20 || v === 80 ? fmt(v, false) : ''),
      yCci: yAxis(-258, 316, 90, [-200, -150, -100, 0, 100, 150, 200, 300],
        v => Math.abs(v) === 150 || v === 0 ? fmt(v, false) : '',
        ctx => Math.abs(ctx.tick.value) === 150 ? 'rgba(0,0,0,0)' : GRID),
      yAdx: yAxis(0.73, 95.1, 90, [10, 20, 30, 40, 50, 60, 70, 80, 90],
        v => v === 50 ? fmt(v, false) : '')
    }
  },
  plugins: [overlay]
})
</script>
</body>
</html>
